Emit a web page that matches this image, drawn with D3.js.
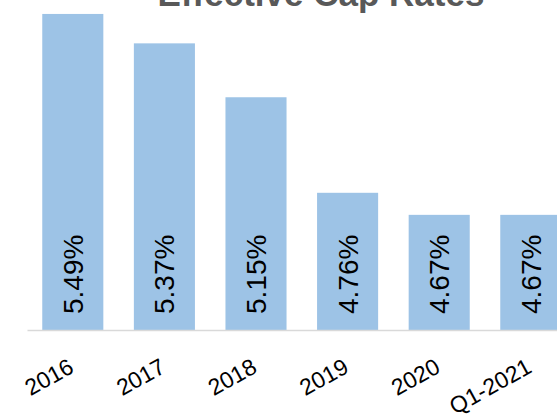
<!DOCTYPE html>
<html>
<head>
<meta charset="utf-8">
<script src="https://cdn.jsdelivr.net/npm/d3@7"></script>
<style>
  body { margin: 0; background: #fff; }
  svg { display: block; }
</style>
</head>
<body>
<svg id="chart"></svg>
<script>
const categories = ['2016', '2017', '2018', '2019', '2020', 'Q1-2021'];
const capRates = [5.49, 5.37, 5.15, 4.76, 4.67, 4.67];
const yDomain = [4.2, 5.5];

const width = 557;
const height = 414;
const baseY = 330;

const svg = d3.select('#chart')
  .attr('width', width)
  .attr('height', height);

const xScale = d3.scaleBand()
  .domain(categories)
  .range([27, 576.6])
  .paddingInner(1 / 3)
  .paddingOuter(1 / 6);

const yScale = d3.scaleLinear()
  .domain(yDomain)
  .range([baseY, baseY - (yDomain[1] - yDomain[0]) * 245]);

// title, cut off at top like the original
svg.append('text')
  .attr('x', 321)
  .attr('y', 6)
  .attr('text-anchor', 'middle')
  .style('font-family', '"Liberation Sans", Arial, sans-serif')
  .style('font-weight', 'bold')
  .style('font-size', '35px')
  .style('fill', '#595959')
  .text('Effective Cap Rates');

svg.selectAll('rect.bar')
  .data(capRates)
  .enter()
  .append('rect')
  .attr('class', 'bar')
  .attr('x', (d, i) => xScale(categories[i]))
  .attr('y', (d) => yScale(d))
  .attr('width', xScale.bandwidth())
  .attr('height', (d) => yScale(yDomain[0]) - yScale(d))
  .style('fill', '#9DC3E6');

// bottom axis line
const xAxis = d3.axisBottom(xScale).tickSize(0).tickFormat('');
const axisG = svg.append('g')
  .attr('transform', 'translate(0,' + baseY + ')')
  .call(xAxis);
axisG.select('.domain')
  .attr('stroke', '#D9D9D9')
  .attr('stroke-width', 1.5);

// category labels
svg.selectAll('text.cat')
  .data(categories)
  .enter()
  .append('text')
  .attr('class', 'cat')
  .attr('text-anchor', 'end')
  .attr('transform', (d) => {
    const cx = xScale(d) + xScale.bandwidth() / 2 + 2.5;
    return 'translate(' + cx + ',371.5) rotate(-29)';
  })
  .style('font-family', '"Liberation Sans", Arial, sans-serif')
  .style('font-size', '23px')
  .style('fill', '#000')
  .text((d) => d);

// value labels inside bars
svg.selectAll('text.val')
  .data(capRates)
  .enter()
  .append('text')
  .attr('class', 'val')
  .attr('text-anchor', 'start')
  .attr('dy', '0.36em')
  .attr('transform', (d, i) => {
    const cx = xScale(categories[i]) + xScale.bandwidth() / 2;
    return 'translate(' + cx + ',' + (baseY - 16) + ') rotate(-90)';
  })
  .style('font-family', '"Liberation Sans", Arial, sans-serif')
  .style('font-size', '28px')
  .style('fill', '#000')
  .text((d) => d.toFixed(2) + '%');
</script>
</body>
</html>
